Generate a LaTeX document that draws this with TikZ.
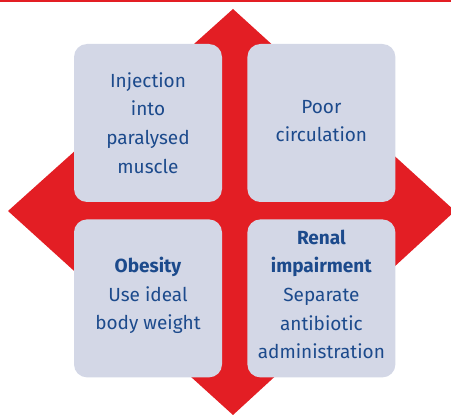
\documentclass[tikz,border=0pt]{standalone}
\usepackage{fontspec}
\setmainfont{Fira Sans}
\usetikzlibrary{positioning}
\definecolor{alarmred}{RGB}{227,30,36}
\definecolor{boxfill}{RGB}{211,215,230}
\definecolor{textblue}{RGB}{28,74,140}

\begin{document}
\begin{tikzpicture}[x=1pt, y=-1pt,
  riskbox/.style={fill=boxfill, rounded corners=13pt, minimum width=148pt, minimum height=158pt, inner sep=0pt},
  risktext/.style={inner sep=0pt, align=center, text=textblue, font=\fontsize{19}{28.7}\selectfont}]
\useasboundingbox (0,0) rectangle (451,417);
\fill[alarmred] (0,0) rectangle (451,2);
\fill[alarmred] (233,9) -- (455,211) -- (233,415) -- (8,211) -- cycle;
\node[riskbox, label={[risktext]center:{Injection\\into\\paralysed\\muscle}}] (injection) at (148,123) {};
\node[riskbox, right=25pt of injection, label={[risktext, yshift=2pt]center:{Poor\\circulation}}] (circulation) {};
\node[riskbox, below=17pt of injection, label={[risktext, yshift=3pt]center:{\textbf{Obesity}\\Use ideal\\body weight}}] (obesity) {};
\node[riskbox, below=17pt of circulation, label={[risktext, yshift=4pt]center:{\textbf{Renal}\\\textbf{impairment}\\Separate\\antibiotic\\administration}}] (renal) {};
\end{tikzpicture}
\end{document}
